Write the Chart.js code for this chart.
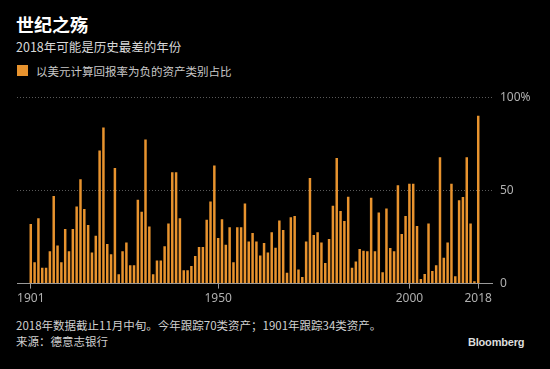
<!DOCTYPE html>
<html lang="zh">
<head>
  <meta charset="UTF-8" />
  <title>世纪之殇</title>
  <script src="https://cdn.jsdelivr.net/npm/chart.js"></script>
  <style>
    body {
      margin: 0;
      padding: 0;
      background: #000;
      font-family: 'Noto Sans CJK SC', 'Noto Sans', sans-serif;
      width: 550px;
      height: 369px;
      overflow: hidden;
      position: relative;
    }
    .abs { position: absolute; white-space: nowrap; }
    #title { left: 16px; top: 15px; font-size: 18px; line-height: 18px; font-weight: bold; color: #fff; }
    #subtitle { left: 16px; top: 40px; font-size: 12.5px; line-height: 14px; color: #d8d8d8; }
    #legendBox { left: 17px; top: 65px; width: 11px; height: 11px; background: #e8932e; }
    #legendText { left: 36px; top: 64px; font-size: 11.5px; line-height: 14px; color: #c8c8c8; }
    #note1 { left: 16px; top: 318px; font-size: 11.5px; line-height: 14px; color: #d0d0d0; }
    #note2 { left: 16px; top: 334px; font-size: 11.5px; line-height: 14px; color: #d0d0d0; }
    #brand { left: 468px; top: 336px; font-family: 'Liberation Sans', Arial, sans-serif; font-size: 11px; line-height: 13px; font-weight: bold; color: #ddd; letter-spacing: -0.2px; }
    #chartBox { position: absolute; left: 0; top: 82px; width: 550px; height: 231px; }
  </style>
</head>
<body>
  <div id="title" class="abs">世纪之殇</div>
  <div id="subtitle" class="abs">2018年可能是历史最差的年份</div>
  <div id="legendBox" class="abs"></div>
  <div id="legendText" class="abs">以美元计算回报率为负的资产类别占比</div>

  <div id="chartBox"><canvas id="chart"></canvas></div>

  <div id="note1" class="abs">2018年数据截止11月中旬。今年跟踪70类资产；1901年跟踪34类资产。</div>
  <div id="note2" class="abs">来源：德意志银行</div>
  <div id="brand" class="abs">Bloomberg</div>

  <script>
    // years 1901..2018
    const firstYear = 1901;
    const lastYear = 2018;

    // share of asset classes with negative USD return (%)
    const share1901to1929 = [32, 11.5, 35, 8.5, 8.5, 17.3, 47, 20.5, 11.5, 29.3, 17.3, 29.3, 41.3, 56, 40, 31.5, 16.7, 25.7, 71.4, 83.8, 21.2, 15.8, 62, 5, 17.3, 22.1, 9.9, 9.9, 45];
    const share1930to1959 = [38.5, 77.3, 30.6, 5, 12.4, 12.4, 20.1, 32.3, 59.8, 59.8, 35, 7.2, 7.2, 9.4, 14.8, 19.6, 19.6, 34.2, 44, 63.4, 24.5, 34.5, 20.9, 30.2, 11.5, 30.2, 30.2, 43, 22.6, 27.2];
    const share1960to1989 = [22.6, 15.1, 21.8, 16.7, 27.5, 19.2, 33.8, 28.8, 5.8, 35.6, 36.3, 7.6, 3.6, 22.6, 56.6, 26.1, 27.5, 22.1, 11, 23.9, 41.7, 67.4, 39, 33.6, 46.6, 8.5, 11.9, 18.5, 17.6, 17.3];
    const share1990to2018 = [46, 17.3, 38.1, 6.1, 40.3, 19.1, 17.3, 52.7, 26.6, 36.3, 53.6, 53.6, 30.9, 2.5, 5.2, 32.3, 6.7, 9.9, 67.8, 13.9, 22.1, 53.6, 4, 44.7, 46.4, 67.8, 32.3, 1.3, 90];

    const xTickYears = [1901, 1950, 2000, 2018];
    const yTickValues = [0, 50, 100];

    const shares = share1901to1929.concat(share1930to1959, share1960to1989, share1990to2018);
    const points = shares.map((v, i) => ({ x: firstYear + i, y: v }));

    new Chart(document.getElementById('chart').getContext('2d'), {
      type: 'bar',
      data: {
        datasets: [{
          label: '以美元计算回报率为负的资产类别占比',
          data: points,
          backgroundColor: '#e8932e',
          borderWidth: 0,
          inflateAmount: 0,
          barPercentage: 0.65,
          categoryPercentage: 1
        }]
      },
      options: {
        responsive: true,
        maintainAspectRatio: false,
        animation: false,
        layout: { padding: { left: 17, right: 0, top: 15, bottom: 4 } },
        plugins: {
          legend: { display: false },
          tooltip: { enabled: false }
        },
        scales: {
          x: {
            type: 'linear',
            offset: false,
            min: 1897.4,
            max: 2021.6,
            afterBuildTicks: scale => { scale.ticks = xTickYears.map(v => ({ value: v })); },
            ticks: {
              autoSkip: false,
              includeBounds: false,
              maxRotation: 0,
              padding: 3,
              color: '#b0b0b0',
              font: { family: "'Noto Sans', sans-serif", size: 12 },
              callback: v => String(v)
            },
            // bar charts default to offset grid lines (between ticks); put them on the ticks
            grid: {
              offset: false,
              drawOnChartArea: false,
              drawTicks: true,
              tickLength: 5,
              color: '#9a9a9a'
            },
            border: { display: true, color: '#9a9a9a', width: 1 }
          },
          y: {
            position: 'right',
            min: 0,
            max: 100,
            afterBuildTicks: scale => { scale.ticks = yTickValues.map(v => ({ value: v })); },
            afterFit: scale => { scale.width = 58; },
            ticks: {
              padding: 8,
              color: '#b0b0b0',
              font: { family: "'Noto Sans', sans-serif", size: 12 },
              callback: v => (v === 100 ? '100%' : String(v))
            },
            grid: {
              drawTicks: false,
              color: ctx => (ctx.tick && ctx.tick.value === 0 ? 'rgba(0,0,0,0)' : '#5a5a5a'),
              lineWidth: 1
            },
            border: { display: false, dash: [1, 2] }
          }
        }
      }
    });
  </script>
</body>
</html>
